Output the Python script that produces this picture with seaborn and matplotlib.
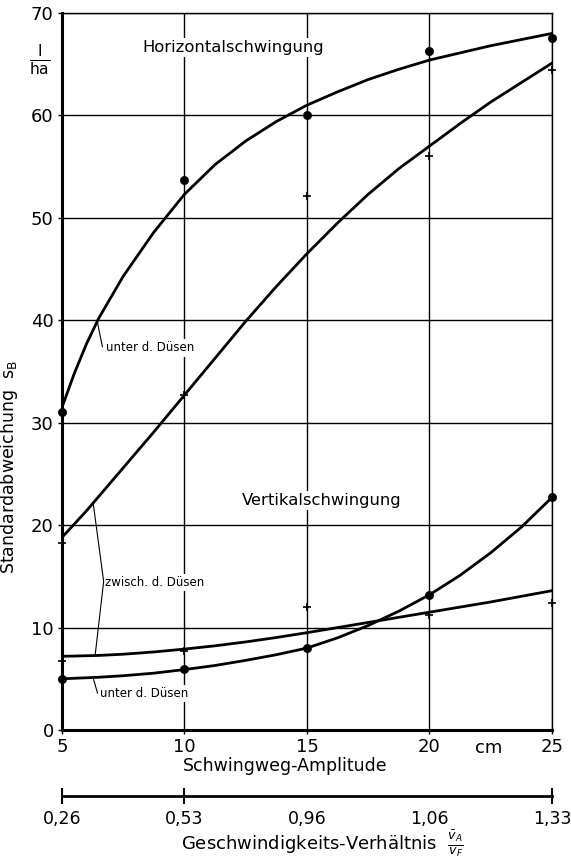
import numpy as np
import pandas as pd
import matplotlib
matplotlib.use("Agg")
import matplotlib.pyplot as plt
import seaborn as sns

sns.set_style("white")
plt.rcParams['font.family'] = ['DejaVu Sans']
plt.rcParams['mathtext.fontset'] = 'dejavusans'
plt.rcParams['text.color'] = 'black'
plt.rcParams['axes.labelcolor'] = 'black'
plt.rcParams['xtick.color'] = 'black'
plt.rcParams['ytick.color'] = 'black'

# measured points (Schwingweg-Amplitude in cm)
amp = [5, 10, 15, 20, 25]
hor_unter_pts = [31.0, 53.7, 60.0, 66.3, 67.6]
hor_zwisch_pts = [18.3, 32.7, 52.1, 56.0, 64.4]
ver_unter_pts = [5.0, 6.0, 8.0, 13.2, 22.7]
ver_zwisch_pts = [6.7, 7.7, 12.0, 11.2, 12.4]

# drawn compensating curves
curve_x = [5, 5.5, 6, 6.5, 7.5, 8.75, 10, 11.25, 12.5, 13.75, 15, 16.25, 17.5,
           18.75, 20, 21.25, 22.5, 23.75, 25]
hor_unter_curve = [31.5, 34.8, 37.7, 40.2, 44.3, 48.6, 52.3, 55.2, 57.5, 59.4, 61.0,
                   62.3, 63.5, 64.5, 65.4, 66.1, 66.8, 67.4, 68.0]
hor_zwisch_curve = [18.8, 20.1, 21.4, 22.8, 25.6, 29.1, 32.7, 36.3, 39.9, 43.3, 46.5,
                    49.5, 52.3, 54.8, 57.0, 59.2, 61.3, 63.2, 65.1]
ver_unter_curve = [5.0, 5.05, 5.1, 5.15, 5.3, 5.55, 5.9, 6.3, 6.8, 7.35, 8.0,
                   9.0, 10.2, 11.6, 13.2, 15.1, 17.3, 19.8, 22.7]
ver_zwisch_curve = [7.2, 7.22, 7.25, 7.28, 7.4, 7.62, 7.9, 8.22, 8.6, 9.03, 9.5,
                    10.0, 10.5, 11.0, 11.5, 12.0, 12.5, 13.05, 13.6]

ratio_labels = ["0,26", "0,53", "0,96", "1,06", "1,33"]
ratio_ticks = [5, 10, 25]

n = len(curve_x)
curves = pd.DataFrame({"x": curve_x * 4,
                       "y": hor_unter_curve + hor_zwisch_curve + ver_unter_curve + ver_zwisch_curve,
                       "s": ["hu"] * n + ["hz"] * n + ["vu"] * n + ["vz"] * n})
dots = pd.DataFrame({"x": amp * 2, "y": hor_unter_pts + ver_unter_pts})
plus = pd.DataFrame({"x": amp * 2, "y": hor_zwisch_pts + ver_zwisch_pts})

fig = plt.figure(figsize=(5.71, 8.63), dpi=100)
ax = fig.add_axes([0.1086, 0.1541, 0.858, 0.8309])

sns.lineplot(data=curves, x="x", y="y", units="s", estimator=None, color="black",
             lw=2, ax=ax, zorder=3)
sns.scatterplot(data=dots, x="x", y="y", color="black", s=35, marker="o",
                edgecolor="black", ax=ax, zorder=4, clip_on=False)
sns.scatterplot(data=plus, x="x", y="y", color="black", s=30, marker="+",
                linewidth=1.2, ax=ax, zorder=4, clip_on=False)

ax.set_xlim(5, 25)
ax.set_ylim(0, 70)
ax.set_xticks(amp)
ax.set_yticks(range(0, 71, 10))
ax.grid(True, color="black", lw=1)
for side in ["top", "right"]:
    ax.spines[side].set_linewidth(1)
for side in ["left", "bottom"]:
    ax.spines[side].set_linewidth(2.2)
for sp in ax.spines.values():
    sp.set_color("black")
ax.tick_params(axis="both", length=3, width=1, color="black", labelsize=13, pad=3,
               bottom=True, left=True)
ax.set_xlabel("Schwingweg-Amplitude", fontsize=12.5, labelpad=2)
ax.xaxis.set_label_coords(0.455, -0.038)
ax.set_ylabel(r"Standardabweichung  $\mathregular{s_B}$", fontsize=12.5)
ax.yaxis.set_label_coords(-0.085, 0.367)
ax.text(22.4, -0.9, "cm", fontsize=13, ha="center", va="top", clip_on=False)
ax.text(-0.046, 0.935, r"$\frac{\mathrm{l}}{\mathrm{ha}}$", transform=ax.transAxes,
        fontsize=16, ha="center", va="center")

box = dict(facecolor="white", edgecolor="none", pad=1.5)
ax.text(12.0, 66.6, "Horizontalschwingung", fontsize=11.8, ha="center", va="center",
        bbox=box, zorder=2)
ax.text(15.6, 22.4, "Vertikalschwingung", fontsize=11.8, ha="center", va="center",
        bbox=box, zorder=2)
ax.text(6.8, 37.3, "unter d. Düsen", fontsize=8.5, ha="left", va="center",
        bbox=box, zorder=2)
ax.text(6.75, 14.4, "zwisch. d. Düsen", fontsize=8.5, ha="left", va="center",
        bbox=box, zorder=2)
ax.text(6.55, 3.6, "unter d. Düsen", fontsize=8.5, ha="left", va="center",
        bbox=box, zorder=2)

# leader lines
ax.plot([6.43, 6.65], [40.0, 37.4], color="black", lw=0.8, zorder=3)
ax.plot([6.27, 6.7, 6.35], [22.2, 14.5, 7.25], color="black", lw=0.8, zorder=3)
ax.plot([6.27, 6.45], [5.1, 3.6], color="black", lw=0.8, zorder=3)

# secondary scale: velocity ratio
ax2 = fig.add_axes([0.1086, 0.0776, 0.858, 0.001])
ax2.set_xlim(5, 25)
ax2.set_yticks([])
ax2.set_xticks(amp)
ax2.set_xticklabels(ratio_labels)
ax2.set_xticks(ratio_ticks, minor=True)
ax2.xaxis.remove_overlapping_locs = False
for side in ["top", "left", "right"]:
    ax2.spines[side].set_visible(False)
ax2.spines["bottom"].set_linewidth(2)
ax2.spines["bottom"].set_color("black")
ax2.tick_params(axis="x", which="major", length=0, labelsize=12.5, pad=10,
                bottom=True)
ax2.tick_params(axis="x", which="minor", direction="inout", length=11, width=1.5,
                color="black", bottom=True)
fig.text(0.565, 0.022, r"Geschwindigkeits-Verhältnis  $\frac{\bar{v}_A}{v_F}$",
         fontsize=13, ha="center", va="center")

fig.savefig("out.png", dpi=100, facecolor="white")
